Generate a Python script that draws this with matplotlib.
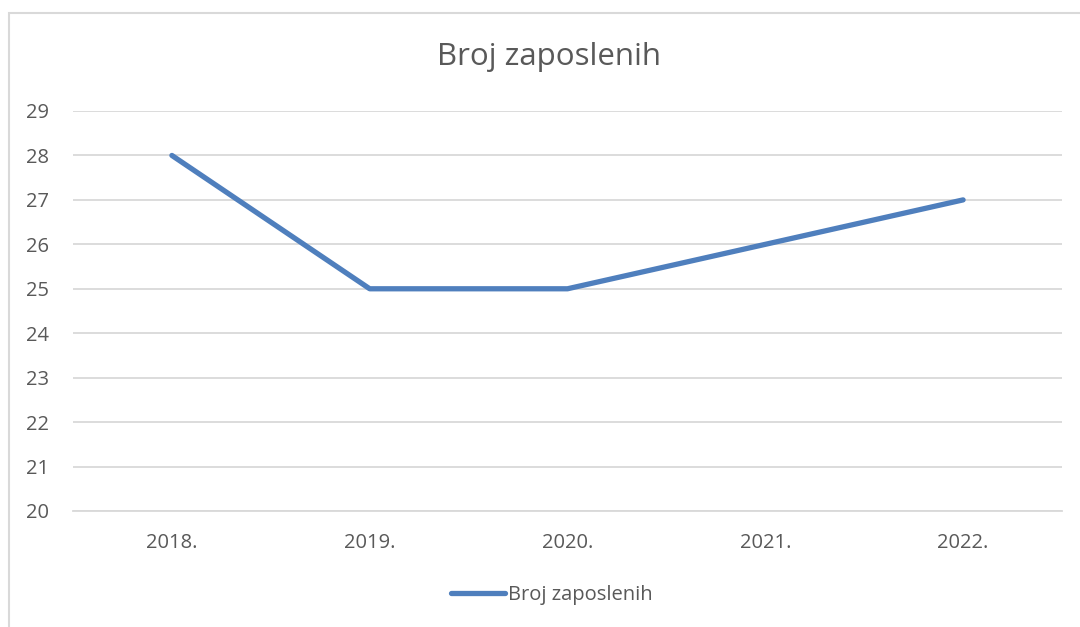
import numpy as np
import matplotlib.pyplot as plt
from matplotlib.patches import Rectangle
from matplotlib.lines import Line2D

# data
years = ['2018.', '2019.', '2020.', '2021.', '2022.']
employees = [28, 25, 25, 26, 27]
y_ticks = list(range(20, 30))

plt.rcParams['font.family'] = ['Open Sans', 'DejaVu Sans']

fig = plt.figure(figsize=(10.8, 6.27), dpi=100)
W, H = 1080, 627

# chart frame (cropped on right and bottom)
fig.patches.append(Rectangle((8.5 / W, -0.1), 1.2, 1 - 12.5 / H + 0.1,
                             transform=fig.transFigure, fill=False,
                             edgecolor='#d9d9d9', linewidth=1.5))

ax = fig.add_axes([73 / W, 1 - 511 / H, (1062 - 73) / W, (511 - 111) / H])
x = np.arange(len(years))
line_color = '#4f7fbd'
ax.plot(x, employees, color=line_color, linewidth=3.8, solid_capstyle='round',
        solid_joinstyle='round', label='Broj zaposlenih', zorder=3)

ax.set_xlim(-0.5, len(years) - 0.5)
ax.set_ylim(20, 29)
ax.set_yticks(y_ticks)
ax.set_xticks(x)
ax.set_xticklabels(years)
ax.grid(axis='y', color='#d9d9d9', linewidth=1.3)
ax.set_axisbelow(True)
for s in ['top', 'right', 'left']:
    ax.spines[s].set_visible(False)
ax.spines['bottom'].set_color('#d9d9d9')
ax.spines['bottom'].set_linewidth(1.3)
ax.tick_params(axis='both', length=0, labelsize=14.5, labelcolor='#595959')
ax.tick_params(axis='y', pad=17)
ax.tick_params(axis='x', pad=16)

fig.text(549 / W, 1 - 57 / H, 'Broj zaposlenih', ha='center', va='center',
         fontsize=22.5, color='#595959')

handle = Line2D([0], [0], color=line_color, linewidth=3.8, solid_capstyle='round')
fig.legend([handle], ['Broj zaposlenih'], loc='center', bbox_to_anchor=(552 / W, 1 - 595 / H),
           frameon=False, fontsize=14.5, labelcolor='#595959', handlelength=2.7,
           handletextpad=0.15)

fig.savefig('out.png', dpi=100)
